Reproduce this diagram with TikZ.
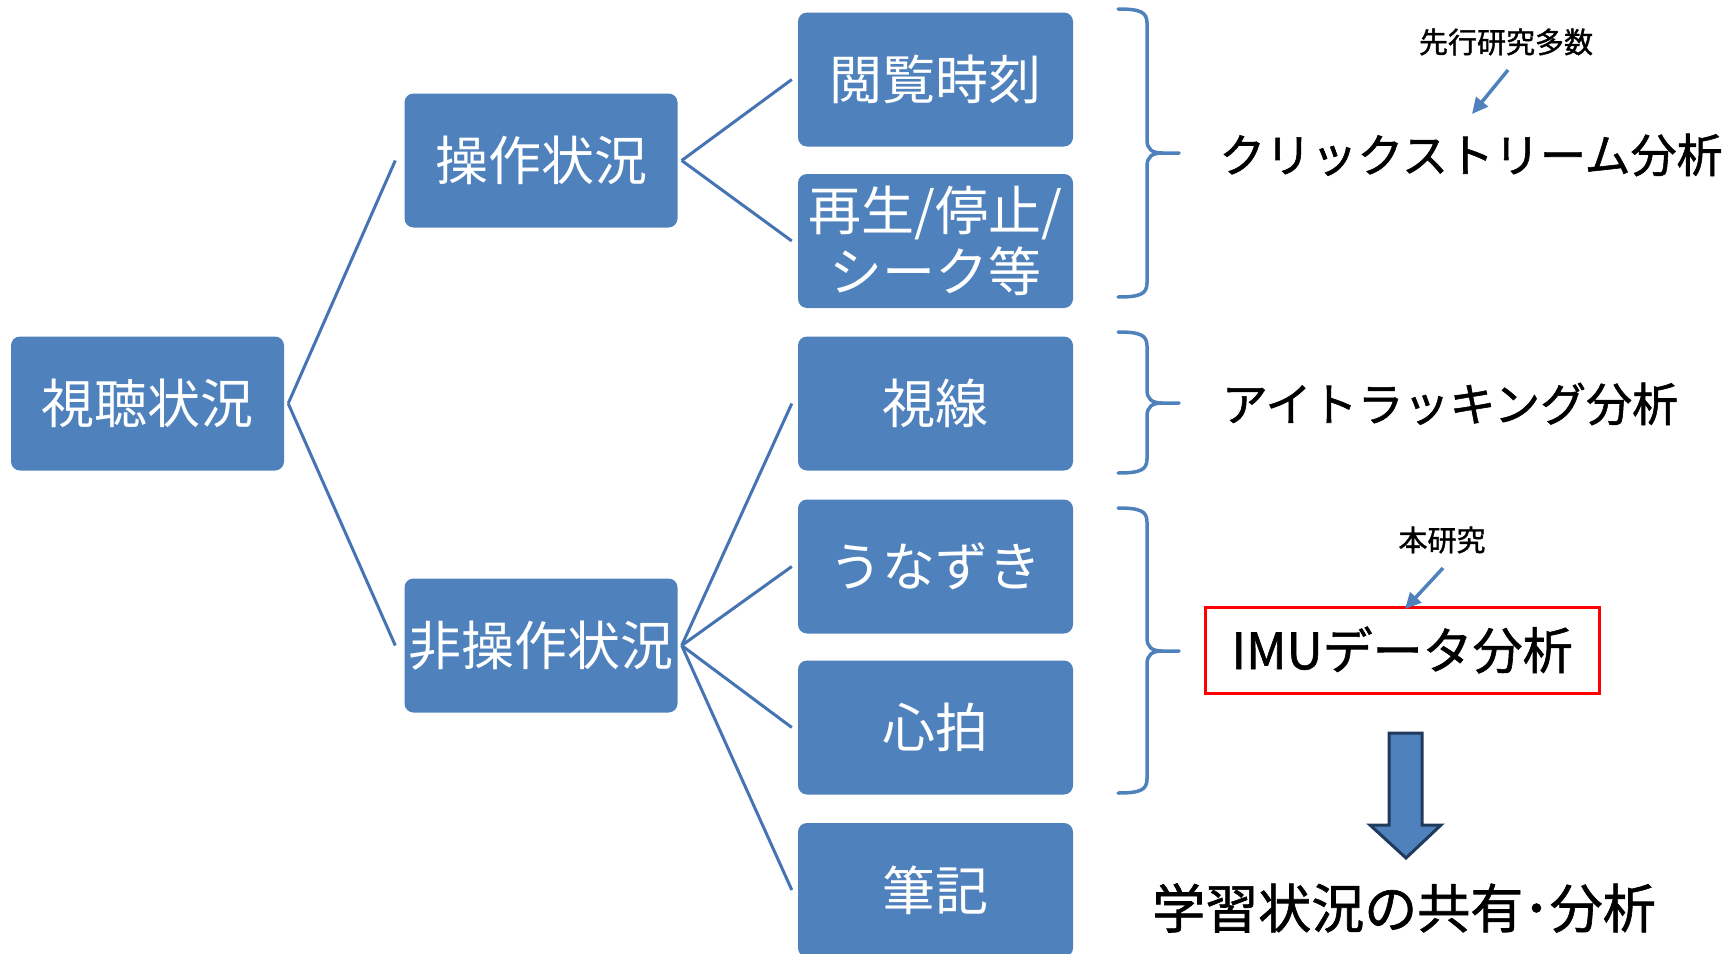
\documentclass[tikz,border=0pt]{standalone}
\usepackage{fontspec}
\setmainfont{Noto Sans CJK JP}
\newfontfamily\jpbold{Noto Sans CJK JP}[FakeBold=1.2]
\usetikzlibrary{arrows.meta}
\definecolor{boxblue}{HTML}{4F81BD}
\definecolor{lineblue}{HTML}{4674B2}
\definecolor{navy}{HTML}{1F3A5C}
\definecolor{imured}{HTML}{FF0000}
\newcommand{\sketchbrace}[3]{%
  \draw[bracestyle] (1118,#1) .. controls (1140,#1) and (1147,#1+3) .. (1147,#1+14)
    -- (1147,#2-13) .. controls (1147,#2-4) and (1152,#2) .. (1162,#2) -- (1179,#2);
  \draw[bracestyle] (1162,#2) .. controls (1152,#2) and (1147,#2+4) .. (1147,#2+13)
    -- (1147,#3-14) .. controls (1147,#3-3) and (1140,#3) .. (1118,#3);
}
\begin{document}
\begin{tikzpicture}[x=1pt,y=-1pt,
  box/.style={fill=boxblue, rounded corners=9pt, minimum width=273pt, minimum height=134pt,
    text=white, font=\fontsize{53}{61}\selectfont, align=center, inner sep=0pt},
  leaf/.style={box, minimum width=275pt},
  conn/.style={draw=lineblue, line width=3pt},
  bracestyle/.style={draw=boxblue, line width=3.5pt, line cap=round},
  bigtext/.style={font=\jpbold\fontsize{46}{54}\selectfont, text=black, inner sep=0pt},
  smalltext/.style={font=\jpbold\fontsize{29}{34}\selectfont, text=black, inner sep=0pt},
  pointer/.style={draw=boxblue, line width=3.5pt, -{Triangle[length=16pt,width=15pt]}}
]
\useasboundingbox (0,0) rectangle (1734,953);

% boxes
\node[box] (root) at (147.5,403.5) {視聴状況};
\node[box] (op) at (541,160.5) {操作状況};
\node[box] (nop) at (541,645.5) {非操作状況};
\node[leaf] (c1) at (935.5,79.5) {閲覧時刻};
\node[leaf] (c2) at (935.5,241) {再生/停止/\\シーク等};
\node[leaf] (c3) at (935.5,403.5) {視線};
\node[leaf] (c4) at (935.5,566.5) {うなずき};
\node[leaf] (c5) at (935.5,727.5) {心拍};
\node[leaf] (c6) at (935.5,890) {筆記};

% connectors
\draw[conn] ([xshift=4pt]root.east) -- ([xshift=-9pt]op.west);
\draw[conn] ([xshift=4pt]root.east) -- ([xshift=-9pt]nop.west);
\draw[conn] ([xshift=4pt]op.east) -- ([xshift=-6pt]c1.west);
\draw[conn] ([xshift=4pt]op.east) -- ([xshift=-6pt]c2.west);
\draw[conn] ([xshift=4pt]nop.east) -- ([xshift=-6pt]c3.west);
\draw[conn] ([xshift=4pt]nop.east) -- ([xshift=-6pt]c4.west);
\draw[conn] ([xshift=4pt]nop.east) -- ([xshift=-6pt]c5.west);
\draw[conn] ([xshift=4pt]nop.east) -- ([xshift=-6pt]c6.west);

% braces
\sketchbrace{9}{153}{297}
\sketchbrace{332}{403}{473}
\sketchbrace{508}{651}{793}

% right-hand texts
\node[bigtext] (click) at (1471,155) {クリックストリーム分析};
\node[bigtext] (eye) at (1450,404) {アイトラッキング分析};
\node[bigtext, font=\jpbold\fontsize{50}{58}\selectfont, draw=imured, line width=3pt, minimum width=394pt, minimum height=86pt] (imu) at (1402,650) {IMUデータ分析};
\node[font=\jpbold\fontsize{53}{60}\selectfont, inner sep=0pt] (share) at (1404,908) {学習状況の共有･分析};
\node[smalltext] (prev) at (1506,42) {先行研究多数};
\node[smalltext] (this) at (1442,540) {本研究};

% small pointer arrows
\coordinate (p1s) at (1508,70);
\coordinate (p1e) at (1472,114);
\coordinate (p2s) at (1443,568);
\coordinate (p2e) at (1405,609);
\draw[pointer] (p1s) -- (p1e);
\draw[pointer] (p2s) -- (p2e);

% big block arrow
\draw[fill=boxblue, draw=navy, line width=3pt, line join=miter]
  (1389,733) -- (1422,733) -- (1422,825) -- (1441,825) -- (1406,858) -- (1370,825) -- (1389,825) -- cycle;
\end{tikzpicture}
\end{document}
